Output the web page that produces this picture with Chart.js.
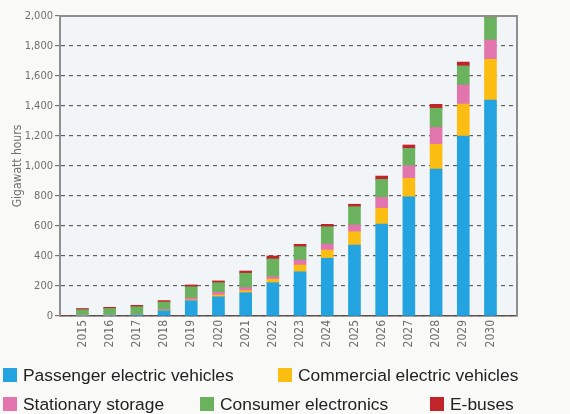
<!DOCTYPE html>
<html>
<head>
<meta charset="utf-8">
<script src="https://cdn.jsdelivr.net/npm/chart.js@4/dist/chart.umd.min.js"></script>
<style>
  body { margin: 0; background: #f9f9f8; }
  #wrap { position: relative; width: 570px; height: 414px; overflow: hidden; }
  #chart { position: absolute; left: 0; top: 0; }
  .item { position: absolute; font-family: "Liberation Sans", Arial, sans-serif; font-size: 17.4px; color: #222; white-space: nowrap; line-height: 17px; }
  .box { position: absolute; width: 14px; height: 14px; }
</style>
</head>
<body>
<div id="wrap">
  <canvas id="chart" width="570" height="414"></canvas>
</div>
<script>
// battery demand, gigawatt hours
const years = [2015, 2016, 2017, 2018, 2019, 2020, 2021, 2022, 2023, 2024, 2025, 2026, 2027, 2028, 2029, 2030]
const passengerEV = [4, 5, 8, 35, 102, 128, 155, 222, 295, 385, 473, 613, 795, 980, 1200, 1440]
const commercialEV = [1, 1, 1, 3, 6, 12, 14, 23, 45, 55, 89, 105, 123, 165, 213, 271]
const stationary = [2, 2, 3, 5, 12, 18, 20, 17, 33, 40, 45, 73, 84, 113, 127, 129]
const consumer = [35, 42, 50, 50, 75, 64, 96, 118, 89, 115, 122, 120, 116, 127, 127, 150]
const ebuses = [8, 8, 9, 10, 12, 12, 15, 20, 16, 16, 16, 22, 22, 26, 26, 10]
const yTicks = [0, 200, 400, 600, 800, 1000, 1200, 1400, 1600, 1800, 2000]

const series = [
  {label: 'Passenger electric vehicles', data: passengerEV, color: '#23a3e0'},
  {label: 'Commercial electric vehicles', data: commercialEV, color: '#fcbd12'},
  {label: 'Stationary storage', data: stationary, color: '#e274ae'},
  {label: 'Consumer electronics', data: consumer, color: '#6bb25e'},
  {label: 'E-buses', data: ebuses, color: '#c1252b'}
]

// legend spots (left of box, top of box)
const legendSpots = [[3, 368], [278, 368], [3, 397], [200, 397], [430, 397]]

const frame = {
  id: 'frame',
  beforeDraw(chart) {
    const {ctx, chartArea: a} = chart
    ctx.save()
    ctx.fillStyle = '#f2f5f7'
    ctx.fillRect(a.left, a.top, a.right - a.left, a.bottom - a.top)
    ctx.restore()
  },
  afterDraw(chart) {
    const {ctx, chartArea: a} = chart
    ctx.save()
    ctx.strokeStyle = '#8f8f8f'
    ctx.lineWidth = 2
    ctx.beginPath()
    ctx.moveTo(a.left, a.top)
    ctx.lineTo(a.right, a.top)
    ctx.lineTo(a.right, a.bottom)
    ctx.stroke()
    ctx.restore()
  }
}

const labelFont = '"Liberation Sans Narrow", "DejaVu Sans Condensed", "Liberation Sans", sans-serif'

new Chart(document.getElementById('chart'), {
  type: 'bar',
  data: {
    labels: years,
    datasets: series.map(s => ({
      label: s.label,
      data: s.data,
      backgroundColor: s.color,
      barThickness: 12,
      borderWidth: 0
    }))
  },
  options: {
    responsive: false,
    animation: false,
    layout: {padding: {left: 0, top: 16, right: 53, bottom: 64}},
    plugins: {legend: {display: false}, tooltip: {enabled: false}},
    scales: {
      x: {
        type: 'linear',
        stacked: true,
        min: 2014.7,
        max: 2030.45,
        afterFit: s => { s.height = 34 },
        grid: {display: false, drawTicks: false},
        border: {color: '#5b5048', width: 1.5},
        ticks: {
          stepSize: 1,
          includeBounds: false,
          autoSkip: false,
          minRotation: 90,
          maxRotation: 90,
          padding: 4,
          color: '#6f6f6f',
          font: {family: labelFont, size: 12},
          callback: v => years.includes(v) ? String(v) : ''
        }
      },
      y: {
        stacked: true,
        min: 0,
        max: 2000,
        afterFit: s => { s.width = 60 },
        afterBuildTicks: s => { s.ticks = yTicks.map(v => ({value: v})) },
        grid: {color: '#5f5f5f', lineWidth: 1.2, tickLength: 5, tickColor: '#777'},
        border: {color: '#8f8f8f', width: 2, dash: [4, 4]},
        ticks: {
          padding: 2,
          color: '#6f6f6f',
          font: {family: labelFont, size: 11},
          callback: v => v.toLocaleString('en-US')
        },
        title: {
          display: true,
          text: 'Gigawatt hours',
          color: '#6f6f6f',
          padding: {top: 11, bottom: 0},
          font: {family: labelFont, size: 12}
        }
      }
    }
  },
  plugins: [frame]
})

// legend as real text
const wrap = document.getElementById('wrap')
series.forEach((s, i) => {
  const [x, y] = legendSpots[i]
  const box = document.createElement('div')
  box.className = 'box'
  box.style.left = x + 'px'
  box.style.top = y + 'px'
  box.style.background = s.color
  wrap.appendChild(box)
  const txt = document.createElement('div')
  txt.className = 'item'
  txt.style.left = (x + 20) + 'px'
  txt.style.top = (y - 1) + 'px'
  txt.textContent = s.label
  wrap.appendChild(txt)
})
</script>
</body>
</html>
